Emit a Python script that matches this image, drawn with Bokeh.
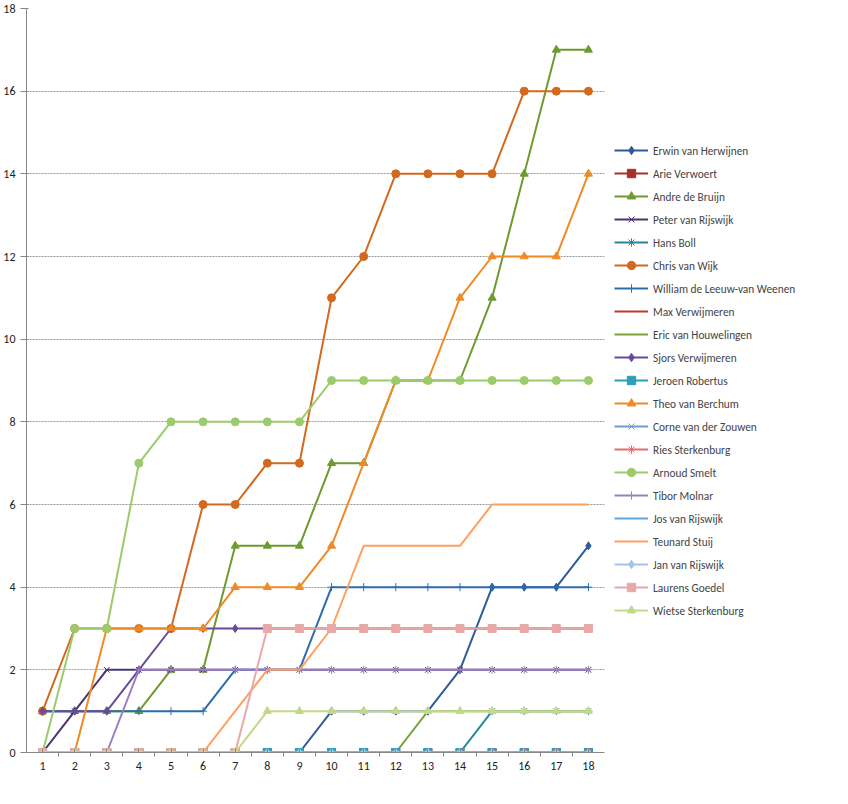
from bokeh.plotting import figure
from bokeh.models import Legend, LegendItem, FixedTicker, Range1d
from bokeh.embed import file_html
from bokeh.resources import INLINE

rounds = list(range(1, 19))
names = ["Erwin van Herwijnen", "Arie Verwoert", "Andre de Bruijn", "Peter van Rijswijk", "Hans Boll",
         "Chris van Wijk", "William de Leeuw-van Weenen", "Max Verwijmeren", "Eric van Houwelingen",
         "Sjors Verwijmeren", "Jeroen Robertus", "Theo van Berchum", "Corne van der Zouwen",
         "Ries Sterkenburg", "Arnoud Smelt", "Tibor Molnar", "Jos van Rijswijk", "Teunard Stuij",
         "Jan van Rijswijk", "Laurens Goedel", "Wietse Sterkenburg"]
erwin = [0,0,0,0,0,0,0,0,0,1,1,1,1,2,4,4,4,5]
arie = [0]*18
andre = [1,1,1,1,2,2,5,5,5,7,7,9,9,9,11,14,17,17]
peter = [0,1,2,2,2,2,2,2,2,2,2,2,2,2,2,2,2,2]
hans = [0,0,0,0,0,0,0,0,0,0,0,0,0,0,1,1,1,1]
chris = [1,3,3,3,3,6,6,7,7,11,12,14,14,14,14,16,16,16]
william = [1,1,1,1,1,1,2,2,2,4,4,4,4,4,4,4,4,4]
maxv = [0]*18
eric = [0,0,0,0,0,0,0,0,0,0,0,0,1,1,1,1,1,1]
sjors = [1,1,1,2,3,3,3,3,3,3,3,3,3,3,3,3,3,3]
jeroen = [0]*18
theo = [0,0,3,3,3,3,4,4,4,5,7,9,9,11,12,12,12,14]
corne = [0]*18
ries = [0]*18
arnoud = [0,3,3,7,8,8,8,8,8,9,9,9,9,9,9,9,9,9]
tibor = [0,0,0,2,2,2,2,2,2,2,2,2,2,2,2,2,2,2]
jos = [0]*18
teunard = [0,0,0,0,0,0,1,2,2,3,5,5,5,5,6,6,6,6]
jan = [0]*18
laurens = [0,0,0,0,0,0,0,3,3,3,3,3,3,3,3,3,3,3]
wietse = [0,0,0,0,0,0,0,1,1,1,1,1,1,1,1,1,1,1]
series = [erwin, arie, andre, peter, hans, chris, william, maxv, eric, sjors, jeroen, theo, corne,
          ries, arnoud, tibor, jos, teunard, jan, laurens, wietse]
colors = ["#2E5C9A", "#A5302D", "#6E9A2E", "#4A3470", "#23889E", "#D2691E", "#2E6CB0", "#C0392B",
          "#7AA33A", "#6A4A9A", "#2AA0B8", "#F08A24", "#6F9AD8", "#E07070", "#9BCB6A", "#9B7FC0",
          "#5AA8E0", "#FF9F60", "#A0C4EE", "#E8A8A8", "#C4D88A"]
markers = ["diamond", "square", "triangle", "x", "asterisk", "circle", "cross", None, None, "diamond",
           "square", "triangle", "x", "asterisk", "circle", "cross", None, None, "diamond", "square", "triangle"]

p = figure(frame_width=578, frame_height=744, output_backend="svg", toolbar_location=None,
           x_range=Range1d(0.5, 18.5), y_range=Range1d(0, 18))
p.min_border_left = 10
p.min_border_top = 8
p.min_border_bottom = 8
p.min_border_right = 8
p.outline_line_color = None
p.xgrid.grid_line_color = None
p.ygrid.grid_line_color = "#999999"
p.ygrid.grid_line_dash = "2 1"
p.yaxis.ticker = FixedTicker(ticks=list(range(0, 19, 2)))
p.xaxis.ticker = FixedTicker(ticks=rounds, minor_ticks=[r + 0.5 for r in rounds[:-1]])
for ax in (p.xaxis[0], p.yaxis[0]):
    ax.major_label_text_font = "Calibri, Liberation Sans"
    ax.major_label_text_font_size = "9pt"
    ax.major_label_text_color = "#222222"
    ax.axis_line_color = "#888888"
    ax.major_tick_line_color = "#888888"
    ax.minor_tick_line_color = "#888888"
p.yaxis.minor_tick_line_color = None
p.xaxis.major_tick_in = 4
p.xaxis.major_tick_out = 0
p.xaxis.minor_tick_in = 0
p.xaxis.minor_tick_out = 4

items = []
for name, ys, c, m in zip(names, series, colors, markers):
    rs = [p.line(rounds, ys, line_color=c, line_width=2)]
    if m:
        rs.append(p.scatter(rounds, ys, marker=m, size=8, fill_color=c, line_color=c))
    items.append(LegendItem(label=name, renderers=rs))

leg = Legend(items=items, location="left", border_line_color=None, spacing=2,
             label_text_font="Calibri, Liberation Sans", label_text_font_size="8.5pt",
             glyph_width=34, glyph_height=21, label_height=21, padding=4, margin=10)
p.add_layout(leg, "right")

open("out.html", "w").write(file_html(p, INLINE))
